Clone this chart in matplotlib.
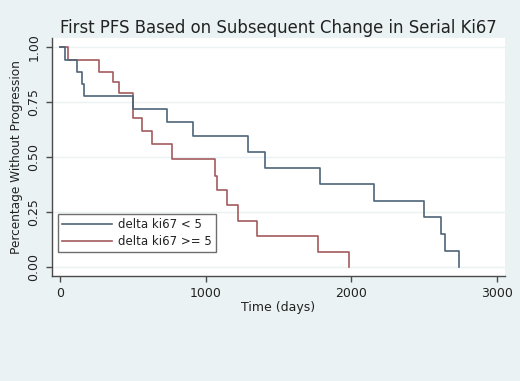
import matplotlib
matplotlib.use("Agg")
import matplotlib.pyplot as plt

# Kaplan-Meier step values
blue_days = [0, 34, 115, 149, 167, 503, 732, 915, 1293, 1410, 1785, 2155, 2500, 2615, 2647, 2738]
blue_surv = [1.0, 0.944, 0.889, 0.833, 0.778, 0.72, 0.658, 0.595, 0.524, 0.451, 0.376, 0.30, 0.226, 0.15, 0.074, 0.0]

red_days = [0, 53, 270, 366, 405, 499, 565, 629, 771, 1066, 1081, 1144, 1224, 1355, 1770, 1986]
red_surv = [1.0, 0.944, 0.889, 0.840, 0.790, 0.678, 0.620, 0.559, 0.49, 0.415, 0.35, 0.281, 0.21, 0.138, 0.067, 0.0]

labels = ["delta ki67 < 5", "delta ki67 >= 5"]
x_ticks = [0, 1000, 2000, 3000]
y_ticks = [0.0, 0.25, 0.5, 0.75, 1.0]

bg = "#eaf2f3"
axcol = "#4a4a4a"
blue = "#4d6579"
red = "#a35a5e"

W, H = 520, 381
fig = plt.figure(figsize=(W / 100, H / 100), dpi=100, facecolor=bg)
ax = fig.add_axes([51.7 / W, 1 - 276 / H, (505 - 51.7) / W, (276 - 38) / H])
ax.set_facecolor("white")

ax.step(red_days, red_surv, where="post", color=red, lw=1.2, label=labels[1], zorder=3)
ax.step(blue_days, blue_surv, where="post", color=blue, lw=1.2, label=labels[0], zorder=4)

ax.set_xlim(-57, 3056)
ax.set_ylim(-0.042, 1.042)
ax.set_xticks(x_ticks)
ax.set_yticks(y_ticks)
ax.set_yticklabels(["%.2f" % v for v in y_ticks], rotation=90, va="center")
ax.grid(axis="y", color=bg, lw=1.0)
ax.set_axisbelow(True)

for s in ["top", "right"]:
    ax.spines[s].set_visible(False)
for s in ["left", "bottom"]:
    ax.spines[s].set_color(axcol)
    ax.spines[s].set_linewidth(1.0)
ax.tick_params(colors=axcol, length=4, width=1.0, labelsize=9, labelcolor="#222222", pad=4)

ax.set_xlabel("Time (days)", fontsize=9, color="#222222", labelpad=1)
ax.set_ylabel("Percentage Without Progression", fontsize=8.7, color="#222222", labelpad=3)
ax.set_title("First PFS Based on Subsequent Change in Serial Ki67", fontsize=11.9, color="#222222", pad=3.5)

h, l = ax.get_legend_handles_labels()
leg = ax.legend(h[::-1], l[::-1], loc="lower left", bbox_to_anchor=(58 / W, 1 - 252 / H),
                bbox_transform=fig.transFigure, fontsize=8.5, frameon=True, fancybox=False,
                handlelength=4.2, handletextpad=0.55, labelspacing=0.3, borderpad=0.35,
                borderaxespad=0)
leg.get_frame().set_edgecolor(axcol)
leg.get_frame().set_linewidth(1.0)
for t in leg.get_texts():
    t.set_color("#222222")

fig.savefig("out.png", dpi=100, facecolor=bg)
